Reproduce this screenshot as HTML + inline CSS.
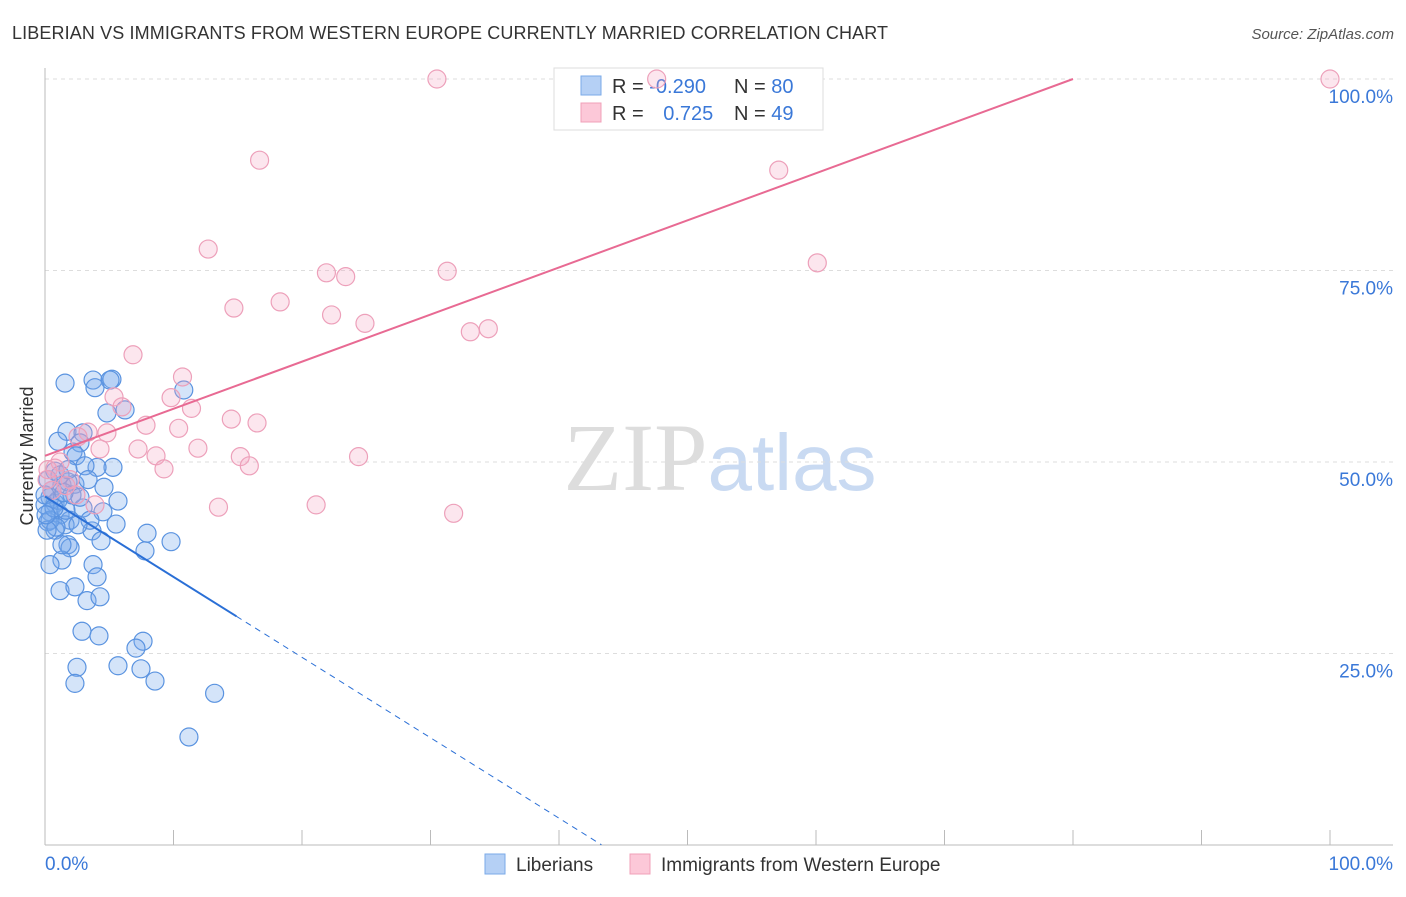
<!DOCTYPE html>
<html><head><meta charset="utf-8">
<style>
body{margin:0;background:#fff;font-family:"Liberation Sans",sans-serif;}
svg text{font-family:"Liberation Sans",sans-serif;}
</style></head>
<body>
<svg id="chart" width="1406" height="892" xmlns="http://www.w3.org/2000/svg">
<text x="12" y="39" font-size="18" fill="#333" textLength="876">LIBERIAN VS IMMIGRANTS FROM WESTERN EUROPE CURRENTLY MARRIED CORRELATION CHART</text>
<text x="1394" y="39" font-size="15" fill="#555" text-anchor="end" font-style="italic">Source: ZipAtlas.com</text>
<text x="720" y="490" font-size="96" text-anchor="middle"><tspan fill="#ddd" font-family="Liberation Serif">ZIP</tspan><tspan fill="#c9daf2" font-size="80">atlas</tspan></text>
<g id="grid"></g>
<g id="axes"></g>
<g>
<rect x="554" y="68" width="269" height="62" fill="#fff" stroke="#ddd"/>
<rect x="581" y="76" width="20" height="19" fill="#b5d0f5" stroke="#7aaae8"/>
<rect x="581" y="103" width="20" height="19" fill="#fcc8d8" stroke="#f0a0b8"/>
<text x="612" y="93" font-size="20" fill="#333">R = <tspan fill="#3a78d8">-0.290</tspan></text>
<text x="734" y="93" font-size="20" fill="#333">N = <tspan fill="#3a78d8">80</tspan></text>
<text x="612" y="120" font-size="20" fill="#333">R = <tspan fill="#3a78d8" dx="14">0.725</tspan></text>
<text x="734" y="120" font-size="20" fill="#333">N = <tspan fill="#3a78d8">49</tspan></text>
</g>
<g id="pts"></g>
<g id="trend"></g>
<text transform="translate(33,456) rotate(-90)" font-size="18" fill="#333" text-anchor="middle">Currently Married</text>
<g>
<rect x="485" y="854" width="20" height="20" fill="#b5d0f5" stroke="#7aaae8"/>
<text x="516" y="871" font-size="19" fill="#333">Liberians</text>
<rect x="630" y="854" width="20" height="20" fill="#fcc8d8" stroke="#f0a0b8"/>
<text x="661" y="871" font-size="19" fill="#333">Immigrants from Western Europe</text>
</g>
</svg>
<script>
const blueX=[1.56,3.74,5.21,5.06,3.89,10.8,4.82,6.23,1.71,2.96,1.01,2.72,2.18,2.41,5.29,4.05,3.11,0.78,1.32,2.33,4.59,1.79,0.39,5.68,0.78,2.96,4.51,0.39,1.17,1.95,0.23,1.56,5.53,3.66,0.78,7.94,4.36,1.79,1.95,7.78,9.81,1.32,3.74,4.05,0.39,1.17,2.33,3.27,4.28,2.88,4.20,7.63,7.08,2.49,5.68,7.47,2.33,8.56,13.2,11.2,0.23,0.54,1.01,0,0.39,0.86,1.63,2.10,2.72,3.50,1.17,0,0.16,1.32,2.57,1.79,3.35,0.70,1.48,0.08];
const blueY=[60.3,60.7,60.8,60.7,59.7,59.4,56.4,56.8,54.0,53.8,52.7,52.5,51.3,50.8,49.3,49.3,49.5,48.8,47.0,47.1,46.7,47.4,45.4,44.9,44.6,44.0,43.5,43.5,43.1,42.4,42.2,41.8,41.9,41.0,41.1,40.7,39.7,39.2,38.8,38.4,39.6,37.2,36.6,35.0,36.6,33.2,33.7,31.9,32.4,27.9,27.3,26.6,25.7,23.2,23.4,23.0,21.1,21.4,19.8,14.1,47.7,46.3,45.0,44.4,42.4,41.5,43.7,45.7,45.4,42.4,48.3,45.7,41.1,39.2,41.8,49.0,47.7,44.0,46.0,43.1];
const pinkX=[30.5,47.6,100,16.7,57.1,12.7,21.9,23.4,31.3,60.1,18.3,14.7,22.3,24.9,33.1,34.5,6.85,10.7,5.37,9.81,5.99,11.4,7.86,14.5,16.5,10.4,3.35,4.82,2.57,7.24,11.9,4.28,8.64,15.2,24.4,9.26,15.9,0.78,1.95,1.63,0.54,0.16,13.5,21.1,31.8,3.89,1.17,0.23,2.41];
const pinkY=[100,100,100,89.4,88.1,77.8,74.7,74.2,74.9,76.0,70.9,70.1,69.2,68.1,67.0,67.4,64.0,61.1,58.5,58.4,57.2,57.0,54.8,55.6,55.1,54.4,53.9,53.8,53.3,51.7,51.8,51.7,50.8,50.7,50.7,49.1,49.5,49.2,47.7,46.9,46.3,47.7,44.1,44.4,43.3,44.4,50.0,49.0,45.7];
const yTicks=[25,50,75,100];
const yTickLabels=["25.0%","50.0%","75.0%","100.0%"];
const xTicks=[0,10,20,30,40,50,60,70,80,90,100];
const blueTrend={a:45.5,b:-1.05,solidEnd:14.9,dashEnd:43.3};
const pinkTrend={a:50.8,b:0.615,end:80};

const NS="http://www.w3.org/2000/svg";
const X=v=>45+v*12.85, Y=v=>845-v*7.66;
function mk(tag,attrs,parent){const e=document.createElementNS(NS,tag);for(const k in attrs)e.setAttribute(k,attrs[k]);document.getElementById(parent).appendChild(e);return e;}
yTicks.forEach((t,i)=>{
 const g=mk('line',{x1:45,x2:1393,y1:Y(t),y2:Y(t),stroke:'#ddd','stroke-dasharray':'4,4'},'grid');
 
 
 const l=mk('text',{x:1393,y:Y(t)+24,'font-size':19,fill:'#3a78d8','text-anchor':'end'},'axes');
 l.textContent=yTickLabels[i];
 
 
});
const ax=mk('line',{x1:45,x2:45,y1:68,y2:845,stroke:'#bbb'},'axes');


const bx=mk('line',{x1:45,x2:1393,y1:845,y2:845,stroke:'#bbb'},'axes');


xTicks.forEach(t=>{
 const k=mk('line',{x1:X(t),x2:X(t),y1:830,y2:845,stroke:'#bbb'},'axes');
 
 
});
const x0=mk('text',{x:45,y:870,'font-size':19,fill:'#3a78d8'},'axes');x0.textContent='0.0%';


const x1=mk('text',{x:1393,y:870,'font-size':19,fill:'#3a78d8','text-anchor':'end'},'axes');x1.textContent='100.0%';


blueX.forEach((v,i)=>{
 const c=mk('circle',{cx:X(v),cy:Y(blueY[i]),r:9,fill:'rgba(120,170,235,0.32)',stroke:'#5a93e0','stroke-width':1.2},'pts');
 
 
});
pinkX.forEach((v,i)=>{
 const c=mk('circle',{cx:X(v),cy:Y(pinkY[i]),r:9,fill:'rgba(245,165,195,0.28)',stroke:'#eda0ba','stroke-width':1.2},'pts');
 
 
});
const bt=blueTrend;
const b1=mk('line',{x1:X(0),y1:Y(bt.a),x2:X(bt.solidEnd),y2:Y(bt.a+bt.b*bt.solidEnd),stroke:'#2a6fd6','stroke-width':2},'trend');


const b2=mk('line',{x1:X(bt.solidEnd),y1:Y(bt.a+bt.b*bt.solidEnd),x2:X(bt.dashEnd),y2:Y(bt.a+bt.b*bt.dashEnd),stroke:'#2a6fd6','stroke-width':1,'stroke-dasharray':'6,5'},'trend');


const pt=pinkTrend;
const p1=mk('line',{x1:X(0),y1:Y(pt.a),x2:X(pt.end),y2:Y(pt.a+pt.b*pt.end),stroke:'#e86a93','stroke-width':2},'trend');


</script>
</body></html>
